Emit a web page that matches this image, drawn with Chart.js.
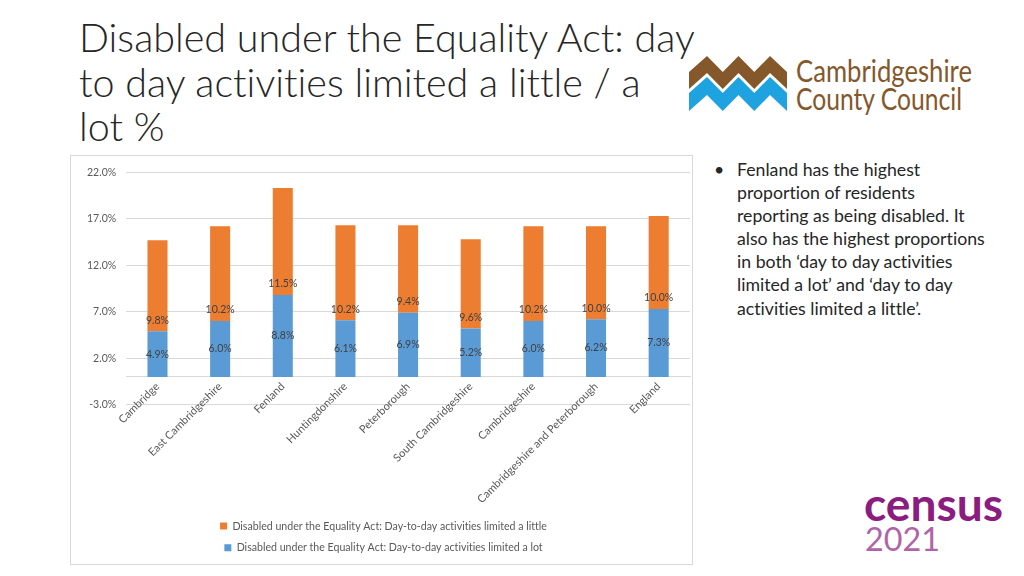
<!DOCTYPE html>
<html>
<head>
<meta charset="utf-8">
<script src="https://cdn.jsdelivr.net/npm/chart.js@4"></script>
<style>
  body { margin: 0; width: 1024px; height: 576px; background: #fff; position: relative; overflow: hidden; font-family: Lato, "Open Sans", sans-serif; font-variant-ligatures: none; }
  .title { position: absolute; left: 79px; top: 15px; font-size: 39.5px; font-weight: 300; line-height: 44.5px; color: #262626; white-space: pre; }
  .notes { position: absolute; left: 714px; top: 158px; font-size: 17.7px; line-height: 23.1px; color: #262626; }
  .notes .b { position: absolute; left: 0; top: 0; }
  .notes .t { position: absolute; left: 23px; top: 0; white-space: pre; }
  #box { position: absolute; left: 70px; top: 155px; width: 621px; height: 408px; border: 1px solid #d9d9d9; }
  svg { position: absolute; left: 0; top: 0; }
</style>
</head>
<body>
<div class="title">Disabled under the Equality Act: day
to day activities limited a little / a
lot %</div>

<svg width="1024" height="576">
  <polygon fill="#85582b" points="689,72 707,56 722.75,72 738.5,56 754.25,72 770,56 787,72 787,89 770,73 754.25,89 738.5,73 722.75,89 707,73 689,89"/>
  <polygon fill="#1fa3e0" points="689,93 707,77 722.75,93 738.5,77 754.25,93 770,77 787,93 787,111 770,95 754.25,111 738.5,95 722.75,111 707,95 689,111"/>
  <text x="796" y="82" fill="#85582b" font-family="Lato" font-size="31" textLength="176" lengthAdjust="spacingAndGlyphs">Cambridgeshire</text>
  <text x="796" y="110" fill="#85582b" font-family="Lato" font-size="31" textLength="166" lengthAdjust="spacingAndGlyphs">County Council</text>
  <text x="864" y="521" fill="#8c1d80" font-family="Lato" font-weight="bold" font-size="46" textLength="139" lengthAdjust="spacingAndGlyphs">census</text>
  <text x="865" y="551" fill="#b064a8" font-family="Lato" font-size="33" textLength="75" lengthAdjust="spacingAndGlyphs">2021</text>
</svg>

<div class="notes">
  <span class="b">•</span>
  <span class="t">Fenland has the highest
proportion of residents
reporting as being disabled. It
also has the highest proportions
in both ‘day to day activities
limited a lot’ and ‘day to day
activities limited a little’.</span>
</div>

<div id="box"><canvas id="chart"></canvas></div>

<script>
const areas = ["Cambridge", "East Cambridgeshire", "Fenland", "Huntingdonshire", "Peterborough",
  "South Cambridgeshire", "Cambridgeshire", "Cambridgeshire and Peterborough", "England"];
const limitedLot = [4.9, 6.0, 8.8, 6.1, 6.9, 5.2, 6.0, 6.2, 7.3];
const limitedLittle = [9.8, 10.2, 11.5, 10.2, 9.4, 9.6, 10.2, 10.0, 10.0];

// labels on the bars: centred in the blue part, just above the base of the orange part
const barLabels = {
  id: "barLabels",
  afterDatasetsDraw(chart) {
    const ctx = chart.ctx;
    ctx.save();
    ctx.font = "10.5px Lato";
    ctx.fillStyle = "#404040";
    ctx.textAlign = "center";
    ctx.textBaseline = "middle";
    chart.data.datasets.forEach((ds, i) => {
      chart.getDatasetMeta(i).data.forEach((bar, j) => {
        const txt = ds.data[j].toFixed(1) + "%";
        const y = i === 0 ? (bar.y + bar.base) / 2 : bar.base - 11;
        ctx.fillText(txt, bar.x, y);
      });
    });
    ctx.restore();
  }
};

new Chart(document.getElementById("chart"), {
  type: "bar",
  data: {
    labels: areas,
    datasets: [
      { label: "Disabled under the Equality Act: Day-to-day activities limited a lot", data: limitedLot, backgroundColor: "#5b9bd5" },
      { label: "Disabled under the Equality Act: Day-to-day activities limited a little", data: limitedLittle, backgroundColor: "#ed7d31" }
    ]
  },
  options: {
    responsive: true,
    maintainAspectRatio: false,
    animation: false,
    layout: { padding: { top: 3, left: 6, right: 2, bottom: 1 } },
    datasets: { bar: { barPercentage: 0.32, categoryPercentage: 1 } },
    plugins: {
      tooltip: { enabled: false },
      legend: {
        position: "bottom",
        reverse: true,
        maxWidth: 400,
        // empty title only keeps room for the rotated category labels
        title: { display: true, text: " ", font: { size: 10 }, padding: { top: 93, bottom: 0 } },
        labels: { boxWidth: 7, boxHeight: 7, padding: 11, color: "#595959", font: { family: "Lato", size: 10.6 } }
      }
    },
    scales: {
      x: {
        stacked: true,
        position: { y: 0 },
        grid: { display: false, drawTicks: false },
        border: { color: "#d9d9d9" },
        ticks: { autoSkip: false, minRotation: 45, maxRotation: 45, padding: 3, color: "#595959", font: { family: "Lato", size: 11 } }
      },
      y: {
        stacked: true,
        min: -3,
        max: 22,
        grid: { color: "#d9d9d9", drawTicks: false },
        border: { display: false },
        ticks: { stepSize: 5, padding: 10, color: "#595959", font: { family: "Lato", size: 10.5 }, callback: v => v.toFixed(1) + "%" }
      }
    }
  },
  plugins: [barLabels]
});
</script>
</body>
</html>
